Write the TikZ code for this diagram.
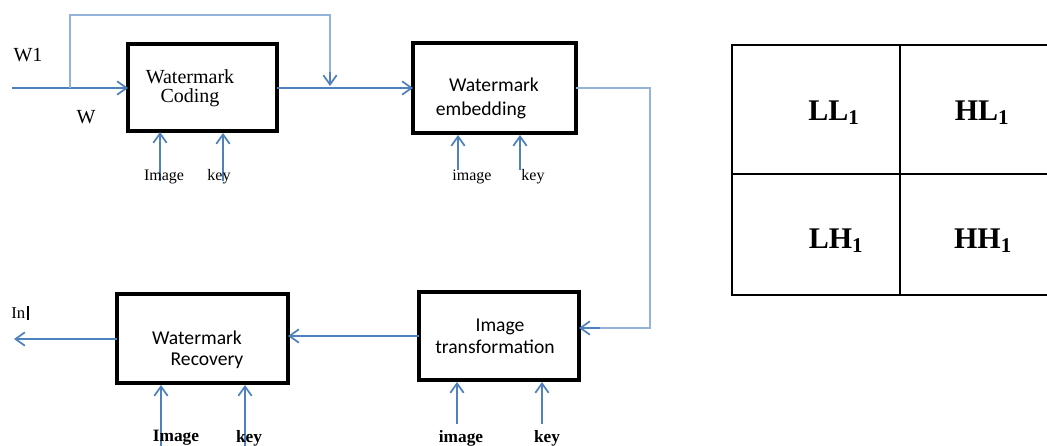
\documentclass[tikz,border=0pt]{standalone}
\usepackage{fontspec}
\setmainfont{Liberation Serif}
\newfontfamily\boxsans{Carlito}
\usetikzlibrary{arrows.meta}
\definecolor{mainblue}{HTML}{4F81BD}
\definecolor{loopblue}{HTML}{95B3D7}
\tikzset{
  blk/.style={draw=black, line width=2.6pt, inner sep=0pt},
  conn/.style={draw=mainblue, line width=1.4pt, -{Straight Barb[length=7pt,width=10pt,line width=1.3pt]}},
  loopline/.style={draw=loopblue, line width=1.1pt},
  lbl/.style={inner sep=0pt, font=\fontsize{12}{14}\selectfont},
  blbl/.style={inner sep=0pt, font=\fontsize{13}{15}\selectfont\bfseries},
  sertxt/.style={inner sep=0pt, font=\fontsize{15}{14.5}\selectfont},
  sanstxt/.style={inner sep=0pt, font=\boxsans\fontsize{14.7}{18}\selectfont},
  cell/.style={draw=black, line width=2pt},
  celltxt/.style={inner sep=0pt, font=\fontsize{22.5}{25}\selectfont\bfseries},
}
\begin{document}
\begin{tikzpicture}[x=0.75pt, y=-0.75pt]
\useasboundingbox (0,0) rectangle (1047,446);
% boxes
\draw[blk] (128,44) rectangle (277,131);
\draw[blk] (413,43) rectangle (576,133);
\draw[blk] (419,292) rectangle (579,380);
\draw[blk] (117,294) rectangle (288,383);
\coordinate (codW) at (128,88);
\coordinate (codE) at (277,88);
\coordinate (embW) at (413,88);
\coordinate (embE) at (576,88);
\coordinate (trE) at (579,328);
\coordinate (trW) at (419,336);
\coordinate (recE) at (288,336);
\coordinate (recW) at (117,339);
% box texts
\node[sertxt, align=center] (t1) at (190,88) {Watermark\\Coding};
\node[sanstxt] (t2a) at (494,85) {Watermark};
\node[sanstxt] (t2b) at (481,110) {embedding};
\node[sanstxt] (t3a) at (500,327) {Image};
\node[sanstxt] (t3b) at (495,347) {transformation};
\node[sanstxt] (t4a) at (197,338) {Watermark};
\node[sanstxt] (t4b) at (207,361) {Recovery};
% inputs
\coordinate (in0) at (12,88);
\coordinate (br) at (70,88);
\coordinate (lp1) at (70,15);
\coordinate (lp2) at (330,15);
\coordinate (lp3) at (330,86);
\draw[conn] (in0) -- (codW);
\draw[loopline] (br) -- (lp1) -- (lp2) -- (330,72);
\draw[conn] (330,72) -- (lp3);
\node[sertxt] (w1) at (28,55) {W1};
\node[sertxt] (w) at (86,117) {W};
\draw[conn] (codE) -- (embW);
% loop to transformation
\coordinate (rt1) at (650,88);
\coordinate (rt2) at (650,328);
\draw[loopline] (embE) -- (rt1) -- (rt2) -- (600,328);
\draw[conn] (600,328) -- (trE);
\draw[conn] (trW) -- (recE);
\coordinate (out) at (14,339);
\draw[conn] (recW) -- (out);
\node[inner sep=0pt, font=\fontsize{12.5}{14}\selectfont, anchor=west] (inlbl) at (11,313) {In};
\draw[black, line width=1pt] (28,306) -- (28,320);
% under coding
\draw[conn] (160,181) -- (160,132);
\draw[conn] (223,181) -- (223,133);
\node[lbl] (im1) at (164,177) {Image};
\node[lbl] (k1) at (219,177) {key};
% under embedding
\draw[conn] (458,170) -- (458,135);
\draw[conn] (520,170) -- (520,135);
\node[lbl] (im2) at (472,177) {image};
\node[lbl] (k2) at (533,177) {key};
% under transformation
\draw[conn] (457,424) -- (457,382);
\draw[conn] (542,424) -- (542,382);
\node[blbl] (im3) at (461,438) {image};
\node[blbl] (k3) at (547,438) {key};
% under recovery
\draw[conn] (161,446) -- (161,385);
\draw[conn] (245,446) -- (245,385);
\node[blbl] (im4) at (176,438) {Image};
\node[blbl] (k4) at (249,438) {key};
% table
\draw[cell] (732,45) -- (1047,45);
\draw[cell] (732,174) -- (1047,174);
\draw[cell] (732,295) -- (1047,295);
\draw[cell] (732,44) -- (732,296);
\draw[cell] (900,44) -- (900,296);
\node[celltxt] (ll) at (834,113) {LL\textsubscript{1}};
\node[celltxt] (hl) at (982,113) {HL\textsubscript{1}};
\node[celltxt] (lh) at (836,241) {LH\textsubscript{1}};
\node[celltxt] (hh) at (983,241) {HH\textsubscript{1}};
\end{tikzpicture}
\end{document}
